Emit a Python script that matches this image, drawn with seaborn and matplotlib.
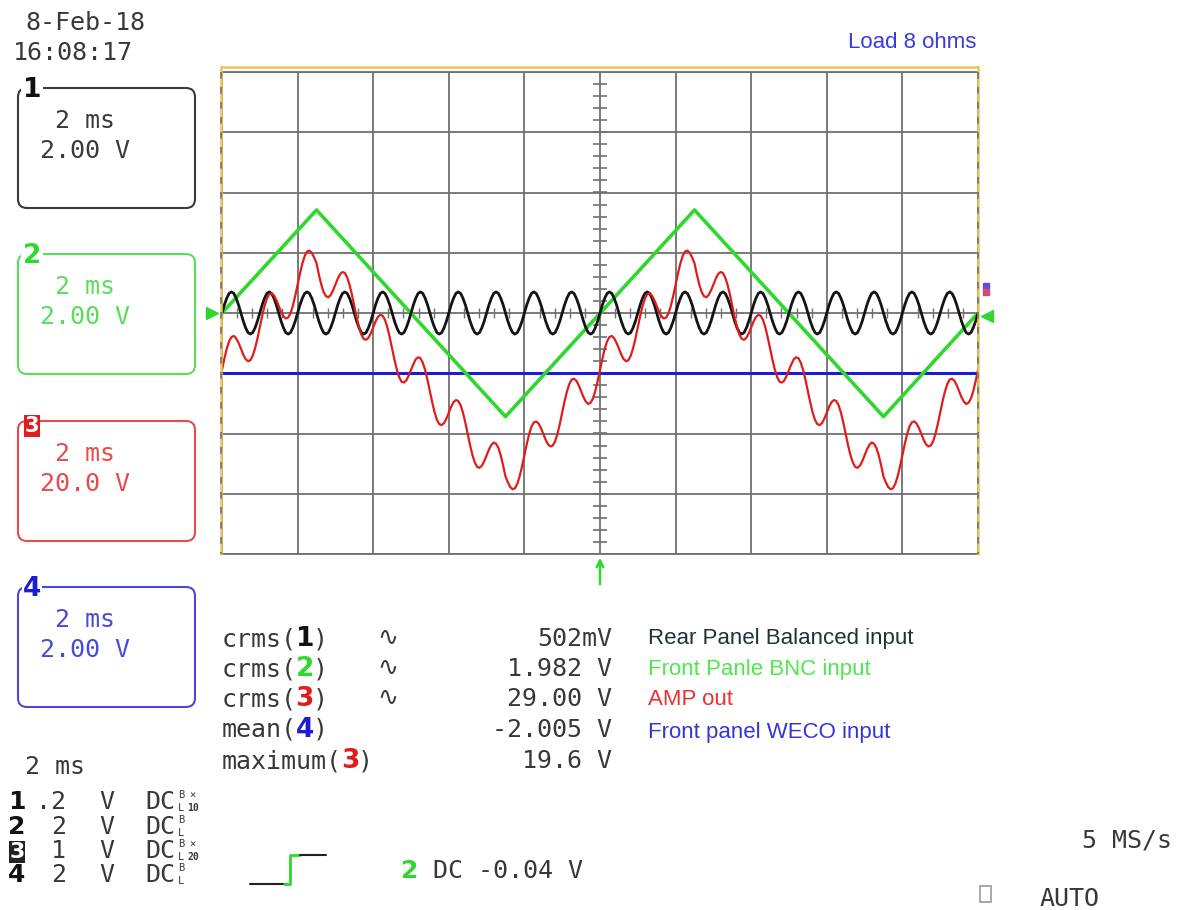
import numpy as np
import pandas as pd
import matplotlib
matplotlib.use("Agg")
import matplotlib.pyplot as plt
from matplotlib.patches import FancyBboxPatch
import seaborn as sns

# ---- captured traces: 2 ms/div, screen spans -10 .. +10 ms ----
SAMPLE_STEP_MS = 0.0625
T_START_MS = -10.0

# channel 1 (black) - rear panel balanced input, volts
CH1_BLACK_V = [
    0.0, 0.27, 0.49, 0.65, 0.70, 0.65, 0.49, 0.27, 0.0, -0.27, -0.49, -0.65, -0.70, -0.65, -0.49, -0.27,
    0.0, 0.27, 0.49, 0.65, 0.70, 0.65, 0.49, 0.27, 0.0, -0.27, -0.49, -0.65, -0.70, -0.65, -0.49, -0.27,
    0.0, 0.27, 0.49, 0.65, 0.70, 0.65, 0.49, 0.27, 0.0, -0.27, -0.49, -0.65, -0.70, -0.65, -0.49, -0.27,
    0.0, 0.27, 0.49, 0.65, 0.70, 0.65, 0.49, 0.27, 0.0, -0.27, -0.49, -0.65, -0.70, -0.65, -0.49, -0.27,
    0.0, 0.27, 0.49, 0.65, 0.70, 0.65, 0.49, 0.27, 0.0, -0.27, -0.49, -0.65, -0.70, -0.65, -0.49, -0.27,
    0.0, 0.27, 0.49, 0.65, 0.70, 0.65, 0.49, 0.27, 0.0, -0.27, -0.49, -0.65, -0.70, -0.65, -0.49, -0.27,
    0.0, 0.27, 0.49, 0.65, 0.70, 0.65, 0.49, 0.27, 0.0, -0.27, -0.49, -0.65, -0.70, -0.65, -0.49, -0.27,
    0.0, 0.27, 0.49, 0.65, 0.70, 0.65, 0.49, 0.27, 0.0, -0.27, -0.49, -0.65, -0.70, -0.65, -0.49, -0.27,
    0.0, 0.27, 0.49, 0.65, 0.70, 0.65, 0.49, 0.27, 0.0, -0.27, -0.49, -0.65, -0.70, -0.65, -0.49, -0.27,
    0.0, 0.27, 0.49, 0.65, 0.70, 0.65, 0.49, 0.27, 0.0, -0.27, -0.49, -0.65, -0.70, -0.65, -0.49, -0.27,
    0.0, 0.27, 0.49, 0.65, 0.70, 0.65, 0.49, 0.27, 0.0, -0.27, -0.49, -0.65, -0.70, -0.65, -0.49, -0.27,
    0.0, 0.27, 0.49, 0.65, 0.70, 0.65, 0.49, 0.27, 0.0, -0.27, -0.49, -0.65, -0.70, -0.65, -0.49, -0.27,
    0.0, 0.27, 0.49, 0.65, 0.70, 0.65, 0.49, 0.27, 0.0, -0.27, -0.49, -0.65, -0.70, -0.65, -0.49, -0.27,
    0.0, 0.27, 0.49, 0.65, 0.70, 0.65, 0.49, 0.27, 0.0, -0.27, -0.49, -0.65, -0.70, -0.65, -0.49, -0.27,
    0.0, 0.27, 0.49, 0.65, 0.70, 0.65, 0.49, 0.27, 0.0, -0.27, -0.49, -0.65, -0.70, -0.65, -0.49, -0.27,
    0.0, 0.27, 0.49, 0.65, 0.70, 0.65, 0.49, 0.27, 0.0, -0.27, -0.49, -0.65, -0.70, -0.65, -0.49, -0.27,
    0.0, 0.27, 0.49, 0.65, 0.70, 0.65, 0.49, 0.27, 0.0, -0.27, -0.49, -0.65, -0.70, -0.65, -0.49, -0.27,
    0.0, 0.27, 0.49, 0.65, 0.70, 0.65, 0.49, 0.27, 0.0, -0.27, -0.49, -0.65, -0.70, -0.65, -0.49, -0.27,
    0.0, 0.27, 0.49, 0.65, 0.70, 0.65, 0.49, 0.27, 0.0, -0.27, -0.49, -0.65, -0.70, -0.65, -0.49, -0.27,
    0.0, 0.27, 0.49, 0.65, 0.70, 0.65, 0.49, 0.27, 0.0, -0.27, -0.49, -0.65, -0.70, -0.65, -0.49, -0.27,
    0.0,
]

# channel 3 (red) - amp out, volts
CH3_RED_V = [
    -18.9, -15.2, -11.9, -9.4, -8.0, -7.6, -8.4, -9.9, -11.8, -13.8, -15.3, -16.0, -15.7, -14.2, -11.7, -8.5,
    -4.7, -1.0, 2.3, 4.8, 6.2, 6.5, 5.8, 4.3, 2.3, 0.4, -1.1, -1.8, -1.5, -0.1, 2.4, 5.7,
    9.4, 13.1, 16.4, 18.9, 20.4, 20.7, 20.0, 18.4, 16.5, 12.8, 9.5, 7.0, 5.6, 5.2, 6.0, 7.5,
    9.4, 11.4, 12.9, 13.6, 13.3, 11.8, 9.3, 6.1, 2.3, -1.4, -4.7, -7.2, -8.6, -8.9, -8.2, -6.7,
    -4.7, -2.8, -1.3, -0.6, -0.9, -2.3, -4.8, -8.1, -11.8, -15.5, -18.8, -21.3, -22.8, -23.1, -22.4, -20.8,
    -18.9, -17.0, -15.4, -14.7, -15.0, -16.5, -19.0, -22.3, -26.0, -29.7, -33.0, -35.5, -36.9, -37.2, -36.5, -35.0,
    -33.1, -31.1, -29.6, -28.9, -29.2, -30.6, -33.1, -36.4, -40.1, -43.9, -47.1, -49.6, -51.1, -51.4, -50.7, -49.2,
    -47.2, -45.3, -43.8, -43.0, -43.4, -44.8, -47.3, -50.6, -54.3, -56.2, -57.8, -58.5, -58.2, -56.7, -54.2, -50.9,
    -47.2, -43.5, -40.2, -37.7, -36.3, -36.0, -36.7, -38.2, -40.1, -42.1, -43.6, -44.3, -44.0, -42.6, -40.1, -36.8,
    -33.1, -29.3, -26.1, -23.6, -22.1, -21.8, -22.5, -24.0, -26.0, -27.9, -29.4, -30.2, -29.8, -28.4, -25.9, -22.6,
    -18.9, -15.2, -11.9, -9.4, -8.0, -7.6, -8.4, -9.9, -11.8, -13.8, -15.3, -16.0, -15.7, -14.2, -11.7, -8.5,
    -4.7, -1.0, 2.3, 4.8, 6.2, 6.5, 5.8, 4.3, 2.3, 0.4, -1.1, -1.8, -1.5, -0.1, 2.4, 5.7,
    9.4, 13.1, 16.4, 18.9, 20.4, 20.7, 20.0, 18.4, 16.5, 12.8, 9.5, 7.0, 5.6, 5.2, 6.0, 7.5,
    9.4, 11.4, 12.9, 13.6, 13.3, 11.8, 9.3, 6.1, 2.3, -1.4, -4.7, -7.2, -8.6, -8.9, -8.2, -6.7,
    -4.7, -2.8, -1.3, -0.6, -0.9, -2.3, -4.8, -8.1, -11.8, -15.5, -18.8, -21.3, -22.8, -23.1, -22.4, -20.8,
    -18.9, -17.0, -15.4, -14.7, -15.0, -16.5, -19.0, -22.3, -26.0, -29.7, -33.0, -35.5, -36.9, -37.2, -36.5, -35.0,
    -33.1, -31.1, -29.6, -28.9, -29.2, -30.6, -33.1, -36.4, -40.1, -43.9, -47.1, -49.6, -51.1, -51.4, -50.7, -49.2,
    -47.2, -45.3, -43.8, -43.0, -43.4, -44.8, -47.3, -50.6, -54.3, -56.2, -57.8, -58.5, -58.2, -56.7, -54.2, -50.9,
    -47.2, -43.5, -40.2, -37.7, -36.3, -36.0, -36.7, -38.2, -40.1, -42.1, -43.6, -44.3, -44.0, -42.6, -40.1, -36.8,
    -33.1, -29.3, -26.1, -23.6, -22.1, -21.8, -22.5, -24.0, -26.0, -27.9, -29.4, -30.2, -29.8, -28.4, -25.9, -22.6,
    -18.9,
]

# channel 2 (green) triangle - corner points, ms / volts
CH2_GREEN_T_MS = [-10.0, -7.5, -2.5, 2.5, 7.5, 10.0]
CH2_GREEN_V = [0.0, 3.42, -3.44, 3.42, -3.44, 0.0]

# channel 4 (blue) - flat DC level
CH4_BLUE_T_MS = [-10.0, 10.0]
CH4_BLUE_V = [-2.0, -2.0]

VOLTS_PER_DIV = {"1": 2.0, "2": 2.0, "3": 20.0, "4": 2.0}
BOX_VDIV_TEXT = ["2.00 V", "2.00 V", "20.0 V", "2.00 V"]

MEAS_NAMES = ["crms", "crms", "crms", "mean", "maximum"]
MEAS_CH = ["1", "2", "3", "4", "3"]
MEAS_VALUES = ["502mV", "1.982 V", "29.00 V", "-2.005 V", "19.6 V"]
MEAS_LABELS = ["Rear Panel Balanced input", "Front Panle BNC input",
               "AMP out", "Front panel WECO input"]

SETUP_SCALE = [".2", "2", "1", "2"]
SETUP_PROBE = ["10", "", "20", ""]

TRACE_COL = {"1": "#141414", "2": "#2ed82e", "3": "#e01c1c", "4": "#1c1cd6"}
BOX_COL = {"1": "#3a3a3a", "2": "#5ade5a", "3": "#ea4a4a", "4": "#4a4ad8"}
LABEL_COL = ["#1e3434", "#4ce84c", "#ec2f2f", "#3434dc"]
TEXT_COL = "#383838"
GRID_COL = "#707070"
FRAME_YELLOW = "#eac65a"
MONO = "DejaVu Sans Mono"
SANS = "Liberation Sans"

W, H = 1178, 910


def sampled(values, ch):
    t = T_START_MS + SAMPLE_STEP_MS * np.arange(len(values))
    return pd.DataFrame({"t": t, "div": np.asarray(values) / VOLTS_PER_DIV[ch]})


def main():
    sns.set_theme(style="white")
    plt.rcParams["font.family"] = [MONO, "DejaVu Sans"]

    fig = plt.figure(figsize=(W / 100, H / 100), dpi=100)
    fig.patch.set_facecolor("white")

    # scope screen
    ax = fig.add_axes([222 / W, 1 - 554 / H, 756 / W, 482 / H])
    ax.set_xlim(-10, 10)
    ax.set_ylim(-4, 4)
    ax.set_xticks(np.arange(-10, 11, 2))
    ax.set_yticks(np.arange(-4, 5, 1))
    ax.tick_params(length=0, labelbottom=False, labelleft=False)
    ax.grid(True, color=GRID_COL, lw=1.3)
    for side in ["top", "bottom"]:
        ax.spines[side].set_color(GRID_COL)
        ax.spines[side].set_linewidth(1.3)
    for side in ["left", "right"]:
        ax.spines[side].set_visible(False)

    # graticule ticks on the centre cross
    ax.hlines(np.arange(-4, 4.01, 0.2), -0.19, 0.19, color=GRID_COL, lw=1.2)
    ax.vlines(np.arange(-10, 10.01, 0.4), -0.09, 0.09, color=GRID_COL, lw=1.0)

    blue = pd.DataFrame({"t": CH4_BLUE_T_MS, "div": np.asarray(CH4_BLUE_V) / VOLTS_PER_DIV["4"]})
    green = pd.DataFrame({"t": CH2_GREEN_T_MS, "div": np.asarray(CH2_GREEN_V) / VOLTS_PER_DIV["2"]})
    black = sampled(CH1_BLACK_V, "1")
    red = sampled(CH3_RED_V, "3")

    sns.lineplot(data=blue, x="t", y="div", estimator=None, sort=False,
                 color=TRACE_COL["4"], lw=2.2, ax=ax)
    sns.lineplot(data=green, x="t", y="div", estimator=None, sort=False,
                 color=TRACE_COL["2"], lw=2.6, ax=ax)
    sns.lineplot(data=black, x="t", y="div", estimator=None, sort=False,
                 color=TRACE_COL["1"], lw=2.0, ax=ax)
    sns.lineplot(data=red, x="t", y="div", estimator=None, sort=False,
                 color=TRACE_COL["3"], lw=1.6, ax=ax)
    ax.set_xlabel("")
    ax.set_ylabel("")

    # overlay in pixel coordinates for the scope chrome
    ov = fig.add_axes([0, 0, 1, 1], zorder=5)
    ov.set_xlim(0, W)
    ov.set_ylim(H, 0)
    ov.axis("off")
    ov.patch.set_alpha(0)

    # yellow screen border, grey dashes on the sides
    ov.plot([221, 978], [67, 67], color=FRAME_YELLOW, lw=1.8)
    for x in (221, 978):
        ov.plot([x, x], [67, 554], color=FRAME_YELLOW, lw=1.8)
        ov.plot([x, x], [72, 554], color=GRID_COL, lw=1.2, dashes=(4, 5))

    def txt(x, y, s, size=18, color=TEXT_COL, ha="left", family=MONO, **kw):
        ov.text(x, y, s, fontsize=size, color=color, ha=ha, va="baseline",
                family=family, **kw)

    txt(25, 30, "8-Feb-18")
    txt(13, 60, "16:08:17")
    txt(976, 48, "Load 8 ohms", size=16, color="#3a3ae0", ha="right", family=SANS)

    # channel boxes
    tops = [88, 254, 421, 587]
    for i, ch in enumerate(["1", "2", "3", "4"]):
        top = tops[i]
        box = FancyBboxPatch((18, top), 177, 120, boxstyle="round,pad=0,rounding_size=9",
                             fill=False, ec=BOX_COL[ch], lw=1.5)
        ov.add_patch(box)
        txt(55, top + 40, "2 ms", color=BOX_COL[ch])
        txt(40, top + 70, BOX_VDIV_TEXT[i], color=BOX_COL[ch])
        if ch == "3":
            ov.text(32, top + 5, ch, fontsize=15, fontweight="bold", color="white",
                    ha="center", va="center", family="DejaVu Sans",
                    bbox=dict(boxstyle="square,pad=0.05", fc=TRACE_COL["3"], ec="none"))
        else:
            ov.text(32, top + 2, ch, fontsize=19, fontweight="bold",
                    color=TRACE_COL[ch] if ch != "1" else "#111111",
                    ha="center", va="center", family="DejaVu Sans",
                    bbox=dict(boxstyle="square,pad=0.05", fc="white", ec="none"))

    # measurement table
    adv = 18 * 0.602 * 100 / 72
    rows = [646, 676, 706, 737, 768]
    for i, y in enumerate(rows):
        name = MEAS_NAMES[i]
        n = len(name) + 1
        txt(222, y, name + "(")
        ov.text(222 + (n + 0.5) * adv, y, MEAS_CH[i], fontsize=19,
                fontweight="bold", color=TRACE_COL[MEAS_CH[i]] if MEAS_CH[i] != "1" else "#111111",
                ha="center", va="baseline", family="DejaVu Sans")
        txt(222 + (n + 1) * adv, y, ")")
        if name == "crms":
            ov.text(388, y - 9, "\u223f", fontsize=18, color=TEXT_COL, ha="center",
                    va="center", family="DejaVu Sans")
        txt(612, y, MEAS_VALUES[i], ha="right")
    label_rows = [644, 675, 705, 738]
    for i, y in enumerate(label_rows):
        txt(648, y, MEAS_LABELS[i], size=16, color=LABEL_COL[i], family=SANS)

    # channel setup block
    txt(25, 774, "2 ms")
    setup_rows = [809, 834, 858, 882]
    for i, y in enumerate(setup_rows):
        ch = str(i + 1)
        if ch == "3":
            ov.text(17, y, ch, fontsize=16, fontweight="bold", color="white",
                    ha="center", va="baseline", family="DejaVu Sans",
                    bbox=dict(boxstyle="square,pad=0.03", fc="#222222", ec="none"))
        else:
            ov.text(17, y, ch, fontsize=18, fontweight="bold", color="#111111",
                    ha="center", va="baseline", family="DejaVu Sans")
        txt(66, y, SETUP_SCALE[i], ha="right")
        txt(99, y, "V")
        txt(145, y, "DC")
        txt(178, y - 11, "B", size=7.5)
        txt(178, y + 2, "L", size=7.5)
        if SETUP_PROBE[i]:
            txt(189, y - 11, "\u00d7", size=7.5)
            txt(187, y + 2, SETUP_PROBE[i], size=7, fontweight="bold")

    # trigger symbol and level
    ov.plot([250, 287], [884, 884], color="#222222", lw=1.5)
    ov.plot([284, 290, 290, 300], [884, 884, 855, 855], color=TRACE_COL["2"], lw=2)
    ov.plot([300, 326], [855, 855], color="#222222", lw=1.5)
    ov.text(410, 878, "2", fontsize=18, fontweight="bold", color=TRACE_COL["2"],
            ha="center", va="baseline", family="DejaVu Sans")
    txt(433, 878, "DC -0.04 V")

    txt(1172, 847, "5 MS/s", ha="right")
    ov.add_patch(plt.Rectangle((980, 886), 11, 16, fill=False, ec="#9a9a9a", lw=1.2))
    txt(1040, 906, "AUTO")

    # trigger position arrow and ground markers
    ov.annotate("", xy=(600, 555), xytext=(600, 587),
                arrowprops=dict(arrowstyle="->", color=TRACE_COL["2"], lw=1.8))
    ov.plot(212, 313, marker=">", color=TRACE_COL["2"], ms=8)
    ov.plot(987, 316, marker="<", color=TRACE_COL["2"], ms=8)
    ov.plot(986, 286, marker="s", color="#6a4ad0", ms=4)
    ov.plot(986, 292, marker="s", color="#d04a7a", ms=4)

    fig.savefig("out.png", dpi=100)


if __name__ == "__main__":
    main()
